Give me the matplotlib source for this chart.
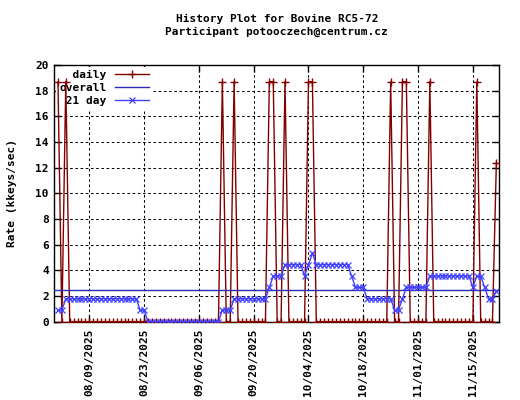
import datetime as dt
import matplotlib
matplotlib.use("Agg")
import matplotlib.pyplot as plt
import matplotlib.dates as mdates

# one point per day, 2025-08-01 .. 2025-11-21
start = dt.date(2025, 8, 1)
n_days = 113
days = [start + dt.timedelta(days=i) for i in range(n_days)]

# daily rate (kkeys/sec), one row per week
daily = [
    18.7, 0, 18.7, 0, 0, 0, 0,
    0, 0, 0, 0, 0, 0, 0,
    0, 0, 0, 0, 0, 0, 0,
    0, 0, 0, 0, 0, 0, 0,
    0, 0, 0, 0, 0, 0, 0,
    0, 0, 0, 0, 0, 0, 0,
    18.7, 0, 0, 18.7, 0, 0, 0,
    0, 0, 0, 0, 0, 18.7, 18.7,
    0, 0, 18.7, 0, 0, 0, 0,
    0, 18.7, 18.7, 0, 0, 0, 0,
    0, 0, 0, 0, 0, 0, 0,
    0, 0, 0, 0, 0, 0, 0,
    0, 18.7, 0, 0, 18.7, 18.7, 0,
    0, 0, 0, 0, 18.7, 0, 0,
    0, 0, 0, 0, 0, 0, 0,
    0, 0, 18.7, 0, 0, 0, 0,
    12.4,
]

# 21 day rate, same rows
avg21 = [
    0.89, 0.89, 1.78, 1.78, 1.78, 1.78, 1.78,
    1.78, 1.78, 1.78, 1.78, 1.78, 1.78, 1.78,
    1.78, 1.78, 1.78, 1.78, 1.78, 1.78, 1.78,
    0.89, 0.89, 0, 0, 0, 0, 0,
    0, 0, 0, 0, 0, 0, 0,
    0, 0, 0, 0, 0, 0, 0,
    0.89, 0.89, 0.89, 1.78, 1.78, 1.78, 1.78,
    1.78, 1.78, 1.78, 1.78, 1.78, 2.67, 3.56,
    3.56, 3.56, 4.45, 4.45, 4.45, 4.45, 4.45,
    3.56, 4.45, 5.34, 4.45, 4.45, 4.45, 4.45,
    4.45, 4.45, 4.45, 4.45, 4.45, 3.56, 2.67,
    2.67, 2.67, 1.78, 1.78, 1.78, 1.78, 1.78,
    1.78, 1.78, 0.89, 0.89, 1.78, 2.67, 2.67,
    2.67, 2.67, 2.67, 2.67, 3.56, 3.56, 3.56,
    3.56, 3.56, 3.56, 3.56, 3.56, 3.56, 3.56,
    3.56, 2.67, 3.56, 3.56, 2.67, 1.78, 1.78,
    2.37,
]

overall = 2.43

tick_dates = [dt.date(2025, 8, 9) + dt.timedelta(days=14 * k) for k in range(8)]
tick_labels = [d.strftime("%m/%d/%Y") for d in tick_dates]
y_ticks = list(range(0, 21, 2))

plt.rcParams["font.family"] = ["DejaVu Sans Mono"]
plt.rcParams["font.weight"] = "bold"
plt.rcParams["axes.labelweight"] = "bold"
plt.rcParams["font.size"] = 8

fig = plt.figure(figsize=(5.2, 4.0), dpi=100)
ax = fig.add_axes([0.1044, 0.196, 0.8558, 0.6415])

ax.plot(days, daily, color="#800000", lw=1.0, marker="+", ms=6, mew=1.0,
        label="  daily", zorder=3)
ax.axhline(overall, color="#2a2ab4", lw=1.0, label="overall", zorder=3)
ax.plot(days, avg21, color="#4040ff", lw=1.0, marker="x", ms=5, mew=0.9,
        label=" 21 day", zorder=4)

x0 = mdates.date2num(start)
ax.set_xlim(x0 - 0.94, x0 + 112.75)
ax.set_ylim(0, 20)
ax.set_xticks(tick_dates)
ax.set_xticklabels(tick_labels, rotation=90)
ax.set_yticks(y_ticks)

ax.tick_params(direction="in", length=5, width=1, top=True, right=True,
               colors="black")
ax.tick_params(axis="x", pad=5)
ax.tick_params(axis="y", pad=4)
for s in ax.spines.values():
    s.set_linewidth(1.0)

ax.set_axisbelow(True)
ax.grid(True, color="black", lw=0.75, linestyle=(0, (2.5, 2.5)))

ax.set_ylabel("Rate (kkeys/sec)")
ax.yaxis.set_label_coords(-0.084, 0.5)
ax.set_title("History Plot for Bovine RC5-72\nParticipant potooczech@centrum.cz",
             pad=22, fontsize=8, fontweight="bold", linespacing=1.35)

leg = ax.legend(loc="upper left", bbox_to_anchor=(0.0, 1.0), markerfirst=False,
                frameon=True, facecolor="white", edgecolor="none", framealpha=1,
                fancybox=False, handlelength=3.0, handletextpad=0.8,
                labelspacing=0.28, borderpad=0.3, borderaxespad=0.15)
leg.set_zorder(1.5)

fig.savefig("out.png", dpi=100)
